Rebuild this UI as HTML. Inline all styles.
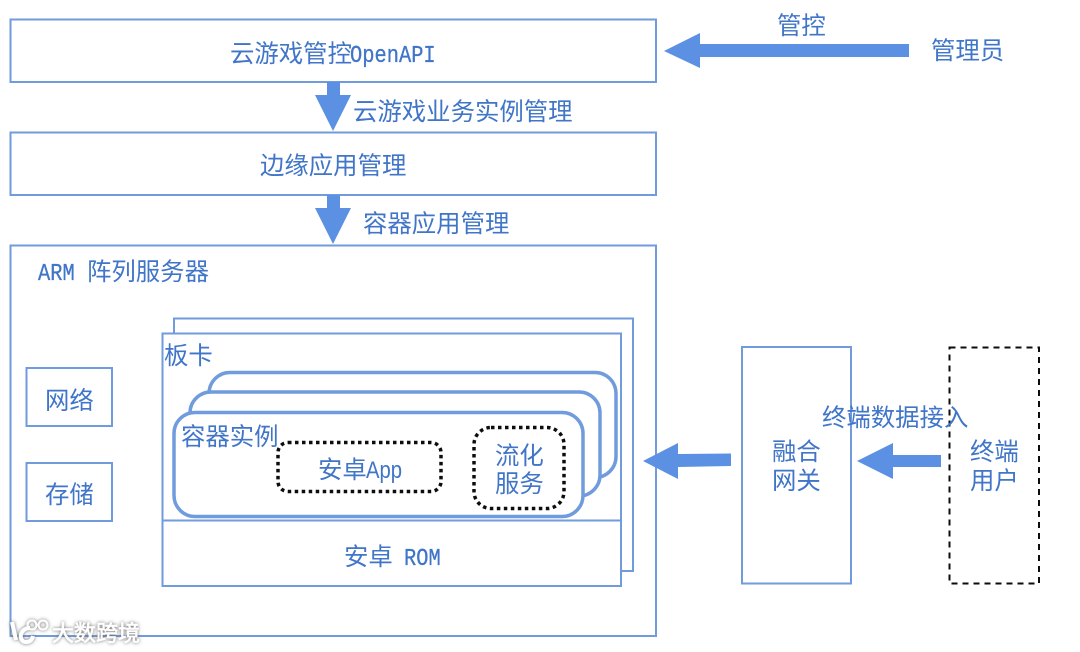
<!DOCTYPE html>
<html><head><meta charset="utf-8">
<style>
html,body{margin:0;padding:0;background:#fff;width:1080px;height:652px;overflow:hidden}
svg{display:block}
text{font-family:"Liberation Sans","Noto Sans CJK SC",sans-serif;font-size:24.4px;fill:#3f74c8}
.m{font-family:"Liberation Mono",monospace;font-size:24px;stroke:#3f74c8;stroke-width:0.3}
.b{fill:#fff;stroke:#6f9bdc;stroke-width:2}
.r{fill:#fff;stroke:#6f9bdc;stroke-width:3.5}
.d{fill:none;stroke:#111;stroke-width:3.5;stroke-dasharray:3.5 3.5}
.a{fill:#5b90e2}
</style></head><body>
<svg width="1080" height="652" viewBox="0 0 1080 652" xmlns="http://www.w3.org/2000/svg">
<defs>
<filter id="s" filterUnits="userSpaceOnUse" x="0" y="600" width="200" height="52"><feDropShadow dx="0" dy="0" stdDeviation="1.8" flood-color="#666" flood-opacity="1"/></filter>
<filter id="soft" filterUnits="userSpaceOnUse" x="0" y="0" width="1080" height="652"><feGaussianBlur stdDeviation="0.35"/></filter>
</defs>
<g filter="url(#soft)">
<rect x="0" y="0" width="1080" height="652" fill="#fff"/>
<rect class="b" x="10.500" y="19.500" width="645.500" height="62.500"/>
<rect class="b" x="10.500" y="132.500" width="645.500" height="62.500"/>
<rect class="b" x="10.500" y="245.500" width="645.500" height="390.500"/>
<rect class="b" x="26.500" y="368" width="85.500" height="58"/>
<rect class="b" x="26.500" y="463" width="85.500" height="58"/>
<rect class="b" x="174" y="318.500" width="459" height="252.500"/>
<rect class="b" x="162.500" y="333.500" width="458.500" height="252.500"/>
<line x1="162" y1="520.500" x2="621" y2="520.500" stroke="#6f9bdc" stroke-width="2"/>
<rect class="r" x="209" y="372.500" width="407" height="105" rx="21"/>
<rect class="r" x="190" y="392" width="410" height="104" rx="21"/>
<rect class="r" x="174" y="412.500" width="409" height="104" rx="21"/>
<rect class="d" x="278" y="442.500" width="163" height="49" rx="10"/>
<rect class="d" x="474" y="427.500" width="90" height="81" rx="17"/>
<rect class="b" x="742" y="347" width="109" height="236.500"/>
<rect x="949.500" y="347.500" width="89.500" height="236" fill="none" stroke="#111" stroke-width="2" stroke-dasharray="6 5"/>
<polygon class="a" points="327,82 340,82 340,95 351,95 333,131 315,95 327,95"/>
<polygon class="a" points="327,195 340,195 340,208 351,208 333,244 315,208 327,208"/>
<polygon class="a" points="664,51 700,33 700,44 909,44 909,57 700,57 700,68"/>
<polygon class="a" points="643,461 678,443 678,454 731,453.500 731,466 678,467 678,479"/>
<polygon class="a" points="857,461 893,443 893,455 941,455 941,467 893,467 893,479"/>
<text x="230" y="62">云游戏管控</text>
<text class="m" transform="translate(350,62) scale(.85,1)">OpenAPI</text>
<text x="353" y="120">云游戏业务实例管理</text>
<text x="260" y="174">边缘应用管理</text>
<text x="363" y="232">容器应用管理</text>
<text class="m" transform="translate(38,280) scale(.85,1)">ARM</text>
<text x="87" y="280">阵列服务器</text>
<text x="777" y="34">管控</text>
<text x="931" y="59">管理员</text>
<text x="45" y="409">网络</text>
<text x="45" y="503">存储</text>
<text x="164" y="364">板卡</text>
<text x="181" y="445">容器实例</text>
<text x="318" y="478">安卓</text>
<text x="366" y="478" textLength="36" lengthAdjust="spacingAndGlyphs">App</text>
<text x="495" y="464">流化</text>
<text x="495" y="492">服务</text>
<text x="344" y="565">安卓</text>
<text class="m" transform="translate(404,565) scale(.85,1)">ROM</text>
<text x="772" y="460">融合</text>
<text x="772" y="489">网关</text>
<text x="822" y="426">终端数据接入</text>
<text x="970" y="460">终端</text>
<text x="970" y="489">用户</text>
<g filter="url(#s)">
<text x="52" y="641" style="font-size:22px;fill:#fff;stroke:#fff;stroke-width:0.6">大数跨境</text>
<path d="M12 622 L16 640 M30 628 C19 628 18 642 26 642 C30 642 32 640 33 636" fill="none" stroke="#fff" stroke-width="4"/>
<circle cx="32" cy="625" r="4.500" fill="none" stroke="#fff" stroke-width="2"/>
<circle cx="43" cy="625" r="4.500" fill="none" stroke="#fff" stroke-width="2"/>
</g>
</g>
</svg>
</body></html>
